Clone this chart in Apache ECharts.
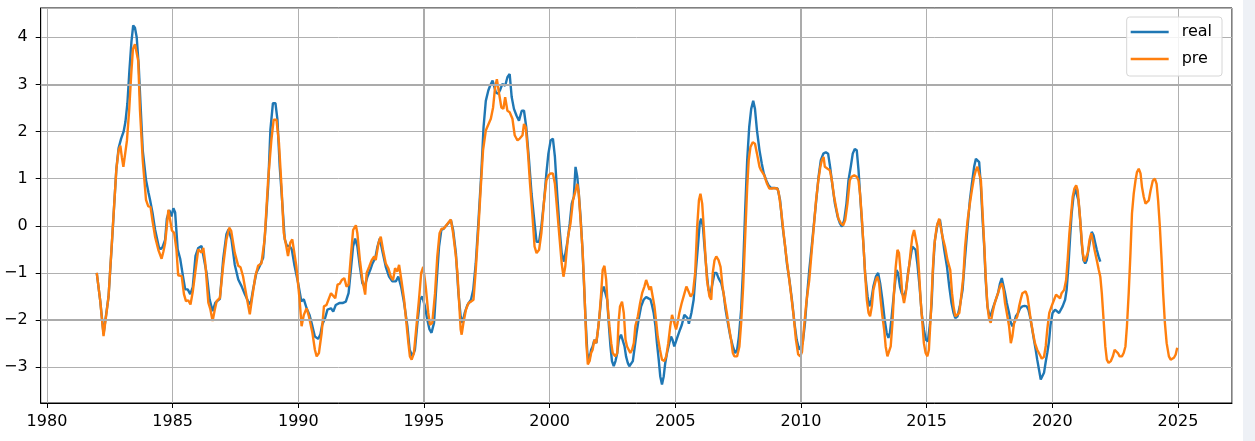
<!DOCTYPE html>
<html>
<head>
<meta charset="utf-8">
<script src="https://cdn.jsdelivr.net/npm/echarts@6/dist/echarts.min.js"></script>
<style>
html,body{margin:0;padding:0;background:#fff;}
#c{width:1255px;height:441px;}
</style>
</head>
<body>
<div id="c"></div>
<script>
const seriesNames = ['real', 'pre'];
const xTicks = [1980, 1985, 1990, 1995, 2000, 2005, 2010, 2015, 2020, 2025];
const yTicks = [-3, -2, -1, 0, 1, 2, 3, 4];
const heavyGridX = [1995, 2010];
const heavyGridY = [3, -2];

const realYears = [1981.98,1982.12,1982.25,1982.32,1982.45,1982.58,1982.68,1982.76,1982.85,1982.95,1983.05,1983.12,1983.2,1983.28,1983.36,1983.43,1983.5,1983.57,1983.65,1983.72,1983.81,1983.94,1984.04,1984.1,1984.2,1984.3,1984.45,1984.52,1984.6,1984.7,1984.77,1984.87,1984.95,1985.03,1985.1,1985.2,1985.3,1985.42,1985.5,1985.6,1985.7,1985.8,1985.91,1986.02,1986.15,1986.22,1986.35,1986.47,1986.59,1986.7,1986.88,1987.01,1987.14,1987.22,1987.34,1987.47,1987.61,1987.74,1987.87,1988.0,1988.1,1988.2,1988.33,1988.47,1988.6,1988.7,1988.8,1988.89,1988.99,1989.09,1989.17,1989.26,1989.37,1989.46,1989.55,1989.65,1989.74,1989.85,1989.99,1990.12,1990.22,1990.33,1990.45,1990.56,1990.66,1990.79,1990.88,1990.95,1991.07,1991.16,1991.3,1991.39,1991.49,1991.63,1991.76,1991.89,1992.0,1992.09,1992.18,1992.26,1992.35,1992.45,1992.55,1992.64,1992.75,1992.86,1992.95,1993.06,1993.15,1993.24,1993.35,1993.48,1993.61,1993.74,1993.88,1993.98,1994.09,1994.21,1994.34,1994.43,1994.54,1994.64,1994.74,1994.84,1994.93,1995.04,1995.13,1995.22,1995.3,1995.4,1995.49,1995.6,1995.69,1995.79,1995.93,1996.07,1996.16,1996.27,1996.37,1996.46,1996.53,1996.62,1996.73,1996.87,1996.96,1997.06,1997.17,1997.28,1997.37,1997.46,1997.56,1997.63,1997.73,1997.8,1997.86,1997.95,1998.02,1998.12,1998.23,1998.32,1998.41,1998.49,1998.58,1998.68,1998.78,1998.89,1998.98,1999.07,1999.18,1999.28,1999.4,1999.48,1999.58,1999.67,1999.78,1999.87,1999.95,2000.04,2000.13,2000.21,2000.3,2000.4,2000.48,2000.57,2000.64,2000.72,2000.8,2000.88,2000.96,2001.03,2001.1,2001.16,2001.23,2001.3,2001.36,2001.43,2001.5,2001.57,2001.65,2001.71,2001.78,2001.86,2001.94,2002.01,2002.07,2002.15,2002.22,2002.29,2002.35,2002.42,2002.48,2002.55,2002.62,2002.69,2002.75,2002.84,2002.91,2002.98,2003.04,2003.11,2003.17,2003.24,2003.31,2003.37,2003.46,2003.54,2003.64,2003.74,2003.84,2003.93,2004.01,2004.07,2004.14,2004.21,2004.27,2004.34,2004.4,2004.47,2004.54,2004.6,2004.67,2004.76,2004.83,2004.89,2004.96,2005.03,2005.09,2005.19,2005.26,2005.36,2005.42,2005.49,2005.54,2005.64,2005.73,2005.81,2005.9,2005.97,2006.03,2006.1,2006.16,2006.25,2006.32,2006.4,2006.48,2006.56,2006.64,2006.72,2006.83,2006.92,2007.0,2007.09,2007.19,2007.29,2007.38,2007.46,2007.53,2007.62,2007.7,2007.78,2007.86,2007.94,2008.02,2008.1,2008.17,2008.25,2008.35,2008.44,2008.52,2008.62,2008.71,2008.81,2008.94,2009.07,2009.17,2009.27,2009.37,2009.44,2009.54,2009.64,2009.74,2009.83,2009.93,2010.0,2010.07,2010.16,2010.24,2010.33,2010.44,2010.53,2010.62,2010.7,2010.79,2010.89,2010.99,2011.08,2011.16,2011.26,2011.35,2011.46,2011.55,2011.63,2011.72,2011.81,2011.89,2011.98,2012.06,2012.14,2012.22,2012.29,2012.35,2012.42,2012.49,2012.55,2012.65,2012.72,2012.8,2012.88,2012.98,2013.07,2013.15,2013.24,2013.33,2013.41,2013.48,2013.54,2013.61,2013.7,2013.8,2013.86,2013.94,2014.01,2014.1,2014.18,2014.26,2014.34,2014.43,2014.5,2014.56,2014.63,2014.72,2014.8,2014.89,2014.97,2015.05,2015.13,2015.2,2015.26,2015.33,2015.44,2015.53,2015.61,2015.7,2015.81,2015.9,2015.99,2016.07,2016.14,2016.23,2016.32,2016.43,2016.52,2016.63,2016.72,2016.8,2016.89,2016.96,2017.02,2017.09,2017.16,2017.22,2017.29,2017.35,2017.42,2017.5,2017.58,2017.66,2017.75,2017.84,2017.92,2017.99,2018.06,2018.12,2018.19,2018.28,2018.35,2018.41,2018.48,2018.55,2018.64,2018.72,2018.81,2018.9,2018.98,2019.05,2019.11,2019.18,2019.27,2019.34,2019.4,2019.47,2019.54,2019.6,2019.67,2019.74,2019.8,2019.87,2019.93,2020.01,2020.11,2020.17,2020.27,2020.33,2020.41,2020.51,2020.57,2020.64,2020.71,2020.77,2020.84,2020.91,2020.97,2021.04,2021.11,2021.17,2021.24,2021.31,2021.37,2021.44,2021.51,2021.57,2021.64,2021.71,2021.77,2021.84,2021.91];
const realValues = [-1.0,-1.6,-2.3,-2.3,-1.5,-0.4,0.5,1.2,1.65,1.85,2.0,2.2,2.6,3.3,3.9,4.25,4.2,4.0,3.4,2.6,1.6,0.97,0.7,0.55,0.27,-0.08,-0.45,-0.5,-0.45,-0.3,0.15,0.33,0.2,0.37,0.28,-0.5,-0.7,-1.1,-1.35,-1.35,-1.45,-1.3,-0.64,-0.47,-0.43,-0.45,-1.0,-1.56,-1.81,-1.63,-1.55,-0.71,-0.18,-0.08,-0.29,-0.82,-1.14,-1.28,-1.45,-1.6,-1.67,-1.35,-1.0,-0.85,-0.68,0.0,0.84,2.04,2.6,2.6,2.25,1.26,0.42,-0.29,-0.43,-0.43,-0.5,-0.85,-1.21,-1.6,-1.56,-1.75,-1.9,-2.13,-2.35,-2.4,-2.3,-2.1,-1.95,-1.78,-1.75,-1.82,-1.68,-1.64,-1.64,-1.61,-1.43,-0.94,-0.44,-0.27,-0.44,-0.87,-1.22,-1.29,-1.08,-0.94,-0.8,-0.69,-0.44,-0.27,-0.55,-0.87,-1.08,-1.18,-1.18,-1.08,-1.29,-1.64,-2.13,-2.63,-2.77,-2.63,-2.06,-1.57,-1.5,-1.71,-1.99,-2.2,-2.27,-2.06,-1.29,-0.44,-0.09,-0.06,0.03,0.12,-0.09,-0.58,-1.43,-1.92,-2.06,-1.85,-1.68,-1.57,-1.36,-0.8,0.12,1.11,2.09,2.65,2.87,2.97,3.08,3.08,2.83,2.8,2.87,3.01,2.97,3.15,3.22,2.73,2.48,2.34,2.23,2.44,2.44,2.09,1.39,0.68,0.05,-0.34,-0.34,-0.02,0.54,1.11,1.53,1.81,1.85,1.46,0.68,-0.09,-0.58,-0.76,-0.72,-0.3,0.05,0.47,0.61,1.25,1.04,0.68,0.19,-0.44,-1.15,-1.99,-2.7,-2.87,-2.63,-2.56,-2.42,-2.49,-2.13,-1.78,-1.43,-1.29,-1.29,-1.57,-2.06,-2.56,-2.87,-2.98,-2.87,-2.7,-2.42,-2.31,-2.35,-2.56,-2.77,-2.91,-2.98,-3.01,-2.87,-2.63,-2.27,-1.99,-1.71,-1.57,-1.51,-1.54,-1.56,-1.68,-1.85,-2.13,-2.49,-2.84,-3.19,-3.37,-3.19,-2.91,-2.7,-2.49,-2.35,-2.42,-2.56,-2.56,-2.35,-2.2,-2.1,-1.89,-1.87,-1.96,-2.08,-1.85,-1.57,-1.0,-0.44,0.05,0.15,-0.02,-0.44,-1.0,-1.36,-1.43,-1.22,-1.0,-1.0,-1.11,-1.22,-1.43,-1.78,-2.06,-2.35,-2.56,-2.7,-2.63,-2.35,-1.78,-0.87,0.33,1.39,2.09,2.48,2.65,2.48,2.02,1.6,1.32,1.11,0.96,0.86,0.8,0.8,0.79,0.54,-0.02,-0.44,-0.8,-1.15,-1.57,-2.06,-2.42,-2.63,-2.63,-2.49,-2.06,-1.5,-0.94,-0.37,0.12,0.61,1.04,1.39,1.53,1.56,1.53,1.25,0.82,0.47,0.19,0.05,-0.02,0.12,0.47,0.96,1.25,1.53,1.63,1.6,1.18,0.68,0.12,-0.44,-1.0,-1.5,-1.71,-1.57,-1.29,-1.08,-1.0,-1.22,-1.57,-1.99,-2.27,-2.38,-2.27,-1.92,-1.43,-0.94,-1.0,-1.29,-1.43,-1.5,-1.36,-1.0,-0.73,-0.44,-0.41,-0.51,-0.8,-1.29,-1.85,-2.2,-2.42,-2.45,-2.1,-1.64,-0.87,-0.3,0.05,0.13,-0.16,-0.51,-0.87,-1.29,-1.64,-1.85,-1.96,-1.92,-1.71,-1.36,-0.73,-0.02,0.54,0.89,1.25,1.42,1.46,1.35,0.82,0.19,-0.44,-1.15,-1.71,-1.92,-1.85,-1.71,-1.57,-1.43,-1.22,-1.11,-1.15,-1.43,-1.64,-1.85,-2.06,-2.13,-2.06,-1.92,-1.85,-1.75,-1.71,-1.7,-1.71,-1.78,-1.92,-2.13,-2.42,-2.63,-2.84,-3.05,-3.26,-3.3,-3.12,-2.88,-2.7,-2.45,-2.1,-1.85,-1.78,-1.75,-1.85,-1.82,-1.71,-1.57,-1.36,-0.87,-0.23,0.26,0.61,0.79,0.82,0.54,0.12,-0.37,-0.73,-0.8,-0.73,-0.51,-0.3,-0.13,-0.2,-0.37,-0.51,-0.65,-0.76];

const preYears = [1981.98,1982.12,1982.25,1982.32,1982.45,1982.58,1982.68,1982.76,1982.85,1982.92,1982.98,1983.04,1983.1,1983.18,1983.27,1983.35,1983.42,1983.5,1983.57,1983.63,1983.7,1983.81,1983.94,1984.03,1984.12,1984.2,1984.3,1984.43,1984.56,1984.63,1984.7,1984.77,1984.83,1984.9,1984.97,1985.06,1985.15,1985.22,1985.36,1985.45,1985.53,1985.62,1985.71,1985.8,1985.95,1986.02,1986.15,1986.22,1986.3,1986.42,1986.5,1986.59,1986.67,1986.75,1986.88,1987.01,1987.14,1987.25,1987.33,1987.47,1987.61,1987.7,1987.8,1987.96,1988.07,1988.17,1988.29,1988.4,1988.53,1988.66,1988.8,1988.93,1989.02,1989.13,1989.23,1989.33,1989.42,1989.52,1989.59,1989.68,1989.76,1989.92,1990.05,1990.13,1990.22,1990.33,1990.42,1990.56,1990.66,1990.73,1990.82,1990.93,1991.02,1991.12,1991.3,1991.47,1991.56,1991.65,1991.73,1991.83,1991.92,1992.0,1992.09,1992.18,1992.29,1992.35,1992.45,1992.55,1992.66,1992.72,1992.82,1992.92,1993.02,1993.08,1993.19,1993.28,1993.37,1993.48,1993.58,1993.68,1993.77,1993.85,1993.94,1994.01,1994.1,1994.21,1994.3,1994.38,1994.44,1994.51,1994.6,1994.7,1994.8,1994.89,1994.97,1995.07,1995.17,1995.24,1995.33,1995.44,1995.53,1995.62,1995.7,1995.79,1995.89,1995.99,1996.07,1996.16,1996.27,1996.33,1996.4,1996.46,1996.5,1996.57,1996.67,1996.77,1996.87,1996.97,1997.06,1997.17,1997.26,1997.35,1997.46,1997.57,1997.66,1997.75,1997.83,1997.9,1997.99,1998.08,1998.16,1998.23,1998.32,1998.41,1998.52,1998.61,1998.72,1998.81,1998.92,1998.98,1999.05,1999.14,1999.22,1999.31,1999.4,1999.48,1999.58,1999.67,1999.78,1999.87,1999.95,2000.04,2000.13,2000.21,2000.3,2000.4,2000.48,2000.55,2000.62,2000.73,2000.83,2000.93,2001.02,2001.1,2001.16,2001.23,2001.31,2001.36,2001.41,2001.46,2001.52,2001.59,2001.65,2001.71,2001.78,2001.85,2001.91,2001.98,2002.05,2002.11,2002.18,2002.25,2002.31,2002.38,2002.45,2002.51,2002.61,2002.69,2002.74,2002.8,2002.88,2002.95,2003.02,2003.08,2003.15,2003.21,2003.28,2003.35,2003.41,2003.51,2003.6,2003.68,2003.77,2003.84,2003.9,2003.97,2004.03,2004.1,2004.17,2004.23,2004.3,2004.39,2004.47,2004.56,2004.64,2004.72,2004.8,2004.87,2004.93,2005.03,2005.09,2005.16,2005.25,2005.35,2005.44,2005.5,2005.61,2005.7,2005.79,2005.87,2005.94,2006.0,2006.07,2006.13,2006.2,2006.26,2006.36,2006.43,2006.49,2006.56,2006.63,2006.72,2006.8,2006.88,2006.96,2007.05,2007.13,2007.22,2007.29,2007.35,2007.46,2007.55,2007.62,2007.7,2007.78,2007.86,2007.92,2007.99,2008.08,2008.17,2008.25,2008.35,2008.41,2008.48,2008.54,2008.65,2008.74,2008.84,2008.94,2009.05,2009.11,2009.21,2009.31,2009.4,2009.5,2009.6,2009.71,2009.8,2009.89,2009.97,2010.04,2010.13,2010.22,2010.33,2010.42,2010.5,2010.6,2010.69,2010.77,2010.83,2010.9,2010.95,2011.06,2011.15,2011.23,2011.32,2011.42,2011.49,2011.59,2011.68,2011.76,2011.85,2011.94,2012.01,2012.12,2012.22,2012.29,2012.35,2012.42,2012.49,2012.55,2012.62,2012.69,2012.75,2012.82,2012.88,2012.98,2013.04,2013.11,2013.17,2013.24,2013.31,2013.37,2013.44,2013.51,2013.57,2013.64,2013.7,2013.77,2013.84,2013.9,2013.97,2014.03,2014.1,2014.17,2014.23,2014.3,2014.37,2014.43,2014.5,2014.56,2014.63,2014.7,2014.76,2014.83,2014.89,2014.96,2015.03,2015.09,2015.17,2015.24,2015.3,2015.4,2015.5,2015.57,2015.63,2015.73,2015.83,2015.94,2016.01,2016.07,2016.14,2016.2,2016.3,2016.36,2016.46,2016.53,2016.63,2016.72,2016.8,2016.89,2016.96,2017.02,2017.09,2017.16,2017.22,2017.29,2017.35,2017.42,2017.49,2017.55,2017.62,2017.69,2017.75,2017.84,2017.92,2017.99,2018.06,2018.12,2018.19,2018.28,2018.35,2018.41,2018.48,2018.55,2018.61,2018.68,2018.74,2018.81,2018.88,2018.94,2019.01,2019.07,2019.14,2019.23,2019.31,2019.4,2019.5,2019.58,2019.67,2019.74,2019.8,2019.88,2019.97,2020.07,2020.15,2020.21,2020.31,2020.37,2020.47,2020.55,2020.61,2020.68,2020.75,2020.81,2020.88,2020.95,2021.01,2021.08,2021.15,2021.21,2021.28,2021.35,2021.41,2021.48,2021.55,2021.61,2021.68,2021.77,2021.85,2021.91,2021.97,2022.04,2022.11,2022.17,2022.24,2022.33,2022.41,2022.48,2022.55,2022.61,2022.68,2022.77,2022.84,2022.91,2022.97,2023.04,2023.11,2023.17,2023.24,2023.31,2023.37,2023.44,2023.51,2023.57,2023.64,2023.71,2023.77,2023.84,2023.91,2024.0,2024.08,2024.15,2024.21,2024.28,2024.35,2024.41,2024.48,2024.55,2024.64,2024.71,2024.77,2024.84,2024.91,2024.97];
const preValues = [-1.0,-1.6,-2.34,-2.3,-1.5,-0.37,0.5,1.2,1.6,1.7,1.45,1.25,1.25,1.8,2.45,3.2,3.75,3.85,3.82,3.5,2.45,1.39,0.55,0.41,0.4,0.1,-0.23,-0.51,-0.7,-0.55,-0.37,0.0,0.34,0.3,-0.1,-0.15,-0.5,-1.05,-1.07,-1.45,-1.6,-1.58,-1.67,-1.4,-0.78,-0.5,-0.57,-0.47,-0.8,-1.63,-1.77,-2.02,-1.8,-1.6,-1.53,-0.85,-0.29,-0.04,-0.11,-0.57,-0.85,-0.88,-1.07,-1.56,-1.88,-1.5,-1.07,-0.85,-0.8,-0.29,0.98,1.83,2.25,2.25,1.76,0.84,-0.15,-0.43,-0.64,-0.36,-0.29,-0.85,-1.56,-2.13,-1.89,-1.75,-1.92,-2.27,-2.63,-2.77,-2.7,-2.27,-1.71,-1.68,-1.43,-1.54,-1.25,-1.23,-1.15,-1.11,-1.29,-1.25,-0.65,-0.09,0.01,-0.16,-0.73,-1.15,-1.46,-1.0,-0.87,-0.73,-0.65,-0.73,-0.37,-0.23,-0.51,-0.8,-0.9,-1.08,-1.15,-0.9,-0.97,-0.83,-1.15,-1.57,-2.06,-2.49,-2.77,-2.84,-2.7,-2.13,-1.57,-1.0,-0.87,-1.29,-1.85,-2.1,-2.06,-1.43,-0.65,-0.16,-0.06,-0.06,0.01,0.08,0.13,-0.16,-0.65,-1.0,-1.64,-2.2,-2.31,-2.06,-1.78,-1.64,-1.61,-1.57,-0.94,-0.02,0.82,1.6,2.02,2.16,2.27,2.51,2.94,3.11,2.8,2.51,2.48,2.73,2.44,2.41,2.27,1.92,1.81,1.85,1.92,2.16,2.09,1.53,0.89,0.26,-0.44,-0.58,-0.51,-0.16,0.54,0.96,1.07,1.11,1.11,0.89,0.33,-0.3,-0.8,-1.08,-0.87,-0.23,0.05,0.54,0.72,0.89,0.68,0.12,-0.51,-1.08,-1.78,-2.49,-2.94,-2.87,-2.7,-2.63,-2.42,-2.49,-2.27,-1.92,-1.43,-0.94,-0.85,-1.15,-1.71,-2.13,-2.49,-2.7,-2.77,-2.7,-2.06,-1.71,-1.61,-1.85,-2.42,-2.56,-2.56,-2.7,-2.63,-2.49,-2.13,-1.92,-1.64,-1.43,-1.29,-1.15,-1.15,-1.36,-1.29,-1.5,-1.71,-1.99,-2.35,-2.63,-2.84,-2.87,-2.77,-2.49,-2.13,-1.89,-1.89,-2.2,-2.06,-1.85,-1.65,-1.46,-1.29,-1.36,-1.5,-1.43,-1.0,-0.02,0.54,0.68,0.47,-0.02,-0.65,-1.15,-1.5,-1.57,-1.0,-0.73,-0.65,-0.73,-0.87,-1.29,-1.57,-1.85,-2.13,-2.42,-2.7,-2.77,-2.77,-2.56,-2.06,-1.29,-0.23,0.82,1.39,1.67,1.77,1.74,1.53,1.25,1.18,1.14,1.07,0.89,0.79,0.79,0.8,0.79,0.72,0.33,-0.16,-0.58,-1.0,-1.43,-1.92,-2.42,-2.73,-2.77,-2.68,-2.1,-1.6,-1.15,-0.58,-0.09,0.54,0.96,1.25,1.39,1.46,1.25,1.21,1.18,0.96,0.61,0.33,0.15,0.05,0.01,0.12,0.47,0.96,1.04,1.07,1.04,0.96,0.68,0.19,-0.44,-1.0,-1.57,-1.85,-1.92,-1.71,-1.36,-1.15,-1.08,-1.22,-1.57,-1.92,-2.2,-2.56,-2.77,-2.8,-2.56,-2.06,-1.43,-0.87,-0.51,-0.58,-1.0,-1.43,-1.64,-1.43,-1.15,-0.87,-0.51,-0.23,-0.09,-0.13,-0.44,-1.0,-1.57,-2.06,-2.49,-2.7,-2.77,-2.63,-1.85,-1.0,-0.44,-0.02,0.15,0.12,-0.23,-0.44,-0.73,-0.94,-1.43,-1.71,-1.92,-1.96,-1.85,-1.57,-1.08,-0.44,0.12,0.47,0.75,1.04,1.18,1.25,1.21,0.96,0.33,-0.37,-1.08,-1.71,-1.99,-2.06,-1.85,-1.68,-1.57,-1.43,-1.29,-1.22,-1.36,-1.64,-1.85,-2.13,-2.49,-2.35,-2.06,-1.99,-1.92,-1.71,-1.57,-1.43,-1.39,-1.39,-1.5,-1.71,-1.99,-2.27,-2.49,-2.63,-2.73,-2.82,-2.78,-2.55,-2.2,-1.85,-1.71,-1.57,-1.46,-1.43,-1.54,-1.43,-1.36,-1.15,-0.73,-0.16,0.26,0.61,0.79,0.86,0.75,0.33,-0.16,-0.58,-0.76,-0.78,-0.58,-0.3,-0.16,-0.3,-0.51,-0.73,-0.94,-1.08,-1.43,-1.99,-2.56,-2.84,-2.91,-2.87,-2.77,-2.63,-2.63,-2.7,-2.77,-2.77,-2.7,-2.56,-2.13,-1.43,-0.58,0.26,0.68,0.96,1.14,1.21,1.11,0.82,0.61,0.47,0.44,0.54,0.75,0.96,1.0,0.89,0.54,-0.02,-0.73,-1.43,-2.06,-2.49,-2.77,-2.84,-2.84,-2.8,-2.73,-2.59];

const pairs = (xs, ys) => xs.map((x, i) => [x, ys[i]]);
const fmtNum = v => (v < 0 ? '\u2212' + Math.abs(v) : String(v));
const FONT = 'DejaVu Sans';
const FS = 16;

const chart = echarts.init(document.getElementById('c'), null, { renderer: 'canvas' });
chart.setOption({
  animation: false,
  backgroundColor: '#ffffff',
  grid: { left: 40.7, right: 23, top: 8, bottom: 38, show: true, borderColor: '#000', borderWidth: 1, backgroundColor: 'transparent' },
  legend: {
    data: seriesNames,
    orient: 'vertical',
    right: 33, top: 17,
    padding: [7, 10, 9, 4],
    itemWidth: 38, itemHeight: 2.5, itemGap: 11,
    icon: 'rect',
    backgroundColor: 'rgba(255,255,255,0.85)',
    borderColor: '#d6d6d6', borderWidth: 1, borderRadius: 3,
    textStyle: { fontFamily: FONT, fontSize: FS, color: '#000', padding: [0, 0, 0, 8] }
  },
  xAxis: {
    type: 'value',
    min: 1979.75, max: 2027.15,
    minInterval: 5, maxInterval: 5,
    axisLine: { show: true, onZero: false, lineStyle: { color: '#000', width: 1 } },
    axisTick: { show: true, length: 5, lineStyle: { color: '#000', width: 1 } },
    axisLabel: {
      showMinLabel: false, showMaxLabel: false,
      margin: 11, color: '#000', fontFamily: FONT, fontSize: FS,
      formatter: v => (xTicks.indexOf(Math.round(v * 1000) / 1000) >= 0 ? String(Math.round(v)) : '')
    },
    splitLine: { show: true, lineStyle: { color: '#b0b0b0', width: 1 } }
  },
  yAxis: {
    type: 'value',
    min: -3.76, max: 4.62,
    minInterval: 1, maxInterval: 1,
    axisLine: { show: true, onZero: false, lineStyle: { color: '#000', width: 1 } },
    axisTick: { show: true, length: 5, lineStyle: { color: '#000', width: 1 } },
    axisLabel: {
      showMinLabel: false, showMaxLabel: false,
      margin: 13, color: '#000', fontFamily: FONT, fontSize: FS,
      formatter: v => (yTicks.indexOf(Math.round(v * 1000) / 1000) >= 0 ? fmtNum(Math.round(v)) : '')
    },
    splitLine: { show: true, lineStyle: { color: '#b0b0b0', width: 1 } }
  },
  graphic: [{
    type: 'rect', right: 0, top: 0, z: 100,
    shape: { width: 12, height: 441 },
    style: { fill: '#eef1f6' }
  }],
  series: [
    { name: '_grid', type: 'line', data: [], z: 1, silent: true,
      markLine: { silent: true, symbol: 'none', label: { show: false },
        lineStyle: { color: '#ababab', width: 2, type: 'solid' },
        data: heavyGridX.map(v => ({ xAxis: v })).concat(heavyGridY.map(v => ({ yAxis: v }))) } },
    { name: seriesNames[0], type: 'line', data: pairs(realYears, realValues), showSymbol: false, symbol: 'none',
      lineStyle: { color: '#1f77b4', width: 2.4 }, itemStyle: { color: '#1f77b4' }, z: 2 },
    { name: seriesNames[1], type: 'line', data: pairs(preYears, preValues), showSymbol: false, symbol: 'none',
      lineStyle: { color: '#ff7f0e', width: 2.4 }, itemStyle: { color: '#ff7f0e' }, z: 3 }
  ]
});
</script>
</body>
</html>
